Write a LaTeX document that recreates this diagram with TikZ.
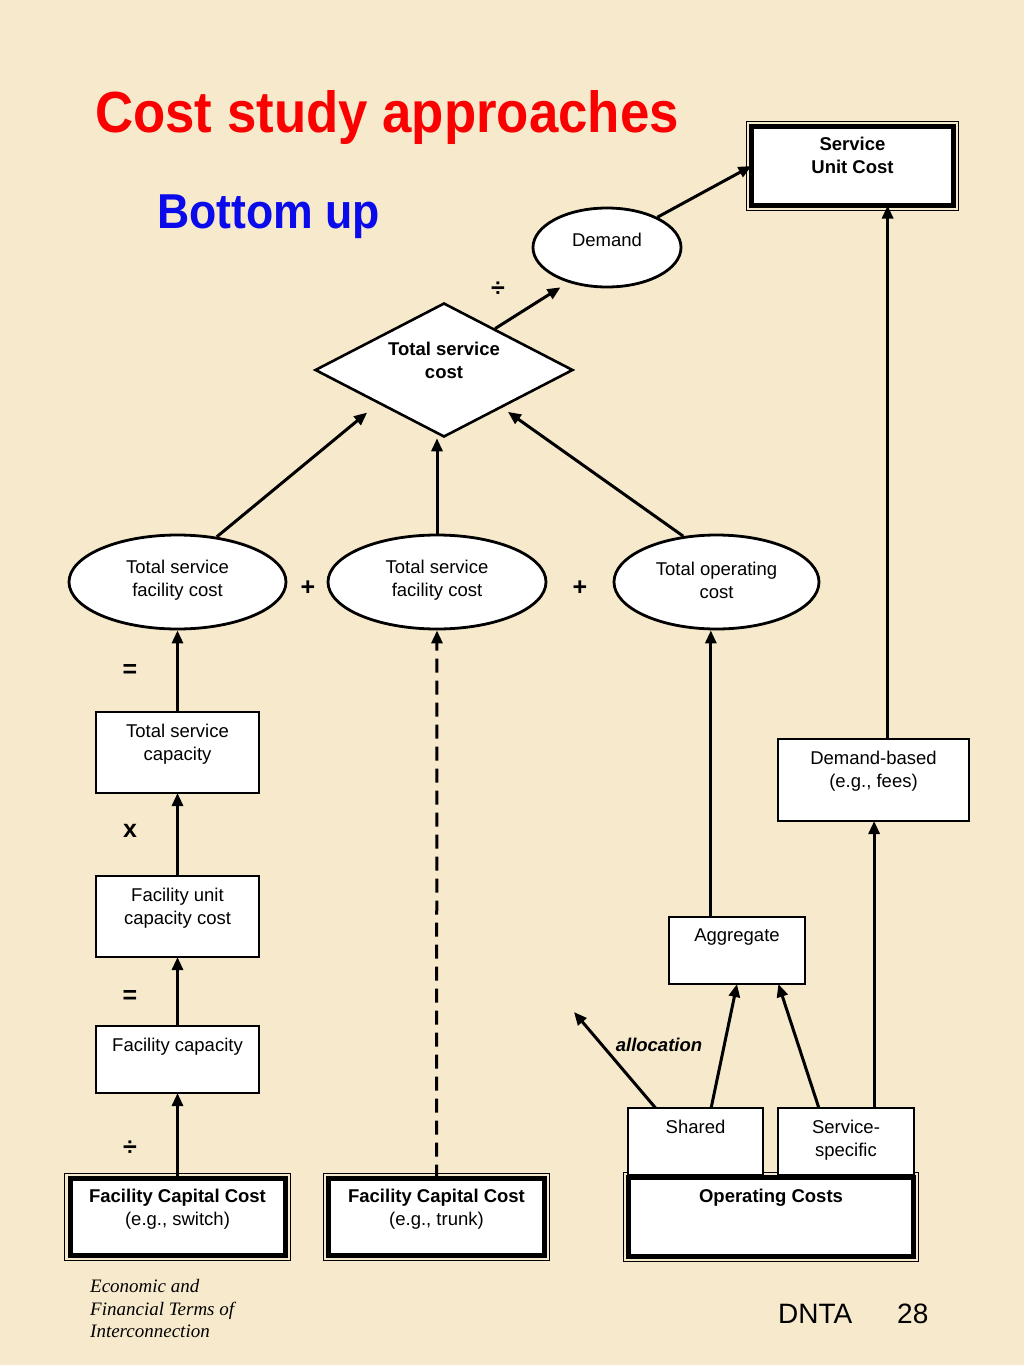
\documentclass[tikz,border=0pt]{standalone}
\usepackage{fontspec}
\setmainfont{Liberation Sans}
\newfontfamily\footfont{Liberation Serif}
\usetikzlibrary{shapes.geometric,arrows.meta}
\definecolor{parchment}{RGB}{247,234,204}
\definecolor{titlered}{RGB}{250,0,0}
\definecolor{titleblue}{RGB}{10,10,235}

\begin{document}
\begin{tikzpicture}[x=1pt,y=-1pt,
    lbl/.style={inner sep=0pt,align=center,font=\fontsize{18.5}{23}\selectfont},
    blbl/.style={lbl,font=\fontsize{18.5}{23}\selectfont\bfseries},
    box/.style={draw,fill=white,line width=1.5pt,inner sep=0pt,outer sep=0pt},
    dbox/.style={draw,fill=white,line width=5pt,inner sep=0pt,outer sep=0pt},
    oval/.style={ellipse,draw,fill=white,line width=2.8pt,inner sep=0pt},
    arr/.style={line width=3pt,-{Triangle[length=13pt,width=11pt]}},
    op/.style={font=\fontsize{25}{28}\selectfont\bfseries}]
          %page
          \useasboundingbox (0,0) rectangle (1024,1365);
          \fill[parchment] (0,0) rectangle (1024,1365);
          \node[anchor=base west,inner sep=0pt,text=titlered,font=\fontsize{58}{60}\selectfont\bfseries] (ttl) at (95,132) {\scalebox{0.91}[1]{Cost study approaches}};
          \node[anchor=base west,inner sep=0pt,text=titleblue,font=\fontsize{49}{52}\selectfont\bfseries] (sub) at (157,228) {\scalebox{0.91}[1]{Bottom up}};

          %upper part
          \node[dbox,minimum width=202pt,minimum height=79pt,label={[blbl,anchor=north,yshift=-10pt]above:Service\\Unit Cost}] (suc) at (852.5,166) {};
          \node[oval,minimum width=148pt,minimum height=79pt,label={[lbl,yshift=8pt]center:Demand}] (dem) at (607,247.5) {};
          \node[diamond,draw,fill=white,line width=2.6pt,inner sep=0pt,minimum width=258pt,minimum height=134pt,label={[blbl,yshift=10pt]center:Total service\\cost}] (tsc) at (444,370) {};
          \node[oval,minimum width=217pt,minimum height=94pt,label={[lbl,yshift=1.5pt]center:Total service\\facility cost}] (fac1) at (177.5,582) {};
          \node[oval,minimum width=218pt,minimum height=94pt,label={[lbl,yshift=1.5pt]center:Total service\\facility cost}] (fac2) at (437,582) {};
          \node[oval,minimum width=205pt,minimum height=94pt,label={[lbl,yshift=1.5pt]center:Total operating\\cost}] (opr) at (716.5,582) {};

          %left column
          \node[box,minimum width=163pt,minimum height=81pt,label={[lbl,anchor=north,yshift=-12pt]above:Total service\\capacity}] (cap) at (177.5,752.5) {};
          \node[box,minimum width=163pt,minimum height=81pt,label={[lbl,anchor=north,yshift=-12pt]above:Facility unit\\capacity cost}] (ucc) at (177.5,916.5) {};
          \node[box,minimum width=163pt,minimum height=67pt,label={[lbl,anchor=north,yshift=-12pt]above:Facility capacity}] (fcap) at (177.5,1059.5) {};
          \node[dbox,minimum width=215pt,minimum height=77pt,label={[lbl,anchor=north,yshift=-10pt]above:\textbf{Facility Capital Cost}\\(e.g., switch)}] (fcs) at (177.5,1217) {};
          \node[dbox,minimum width=216pt,minimum height=77pt,label={[lbl,anchor=north,yshift=-10pt]above:\textbf{Facility Capital Cost}\\(e.g., trunk)}] (fct) at (436.5,1217) {};
          \node[dbox,minimum width=285pt,minimum height=79pt,label={[blbl,anchor=north,yshift=-11pt]above:Operating Costs}] (opc) at (771,1217) {};
          \foreach \n in {suc,fcs,fct,opc}
            \draw[line width=1.2pt] ([shift={(-5.2,5.2)}]\n.south west) rectangle ([shift={(5.2,-5.2)}]\n.north east);

          %right column
          \node[box,minimum width=135pt,minimum height=67pt,label={[lbl,anchor=north,yshift=-12pt]above:Shared}] (shr) at (695.5,1141.5) {};
          \node[box,minimum width=136pt,minimum height=67pt,label={[lbl,anchor=north,yshift=-12pt]above:Service-\\specific}] (spc) at (846,1141.5) {};
          \node[box,minimum width=136pt,minimum height=67pt,label={[lbl,anchor=north,yshift=-12pt]above:Aggregate}] (agg) at (737,950.5) {};
          \node[box,minimum width=191pt,minimum height=82pt,label={[lbl,anchor=north,yshift=-12pt]above:Demand-based\\(e.g., fees)}] (dbs) at (873.5,780) {};
          \coordinate (alloc) at (574,1012);

          %operators
          \node[op] (eq1) at (130,671) {=};
          \node[op] (times) at (130,831) {x};
          \node[op] (eq2) at (130,997) {=};
          \node[op] (div1) at (130,1148) {÷};
          \node[op] (plus1) at (308,588) {+};
          \node[op] (plus2) at (580,588) {+};
          \node[op] (div2) at (498,289) {÷};
          \node[font=\fontsize{18.5}{23}\selectfont\bfseries\itshape] (allo) at (659,1045) {allocation};

          %arrows
          \draw[arr] (fcs.north) -- (fcap.south);
          \draw[arr] (fcap.north) -- (ucc.south);
          \draw[arr] (ucc.north) -- (cap.south);
          \draw[arr] (cap.north) -- (fac1.south);
          \draw[arr,dash pattern=on 14pt off 8pt] (fct.north) -- (fac2.south);
          \draw[arr,shorten >=14pt] (fac1.49) -- (tsc.207.6);
          \draw[arr] (fac2.north) -- (fac2.north |- tsc.south);
          \draw[arr,shorten >=7pt] (opr.126.3) -- (tsc.-33);
          \draw[arr,shorten >=9pt] (tsc.39.5) -- (dem.222);
          \draw[arr] (dem.31) -- (suc.west);
          \draw[arr] (dbs.71.8) -- (dbs.71.8 |- suc.south);
          \draw[arr] (agg.128.9) -- (agg.128.9 |- opr.south);
          \draw[arr] (shr.65.2) -- (agg.south);
          \draw[arr] (spc.129.9) -- (agg.-39.9);
          \draw[arr] (spc.50.1) -- (spc.50.1 |- dbs.south);
          \draw[arr] (shr.140.4) -- (alloc);

          %footer
          \node[anchor=north west,align=left,inner sep=0pt,font=\footfont\itshape\fontsize{19}{22.5}\selectfont] (foot) at (90,1279.5) {Economic and\\Financial Terms of\\Interconnection};
          \node[anchor=base west,inner sep=0pt,font=\fontsize{28}{30}\selectfont] (dnta) at (778,1323) {DNTA};
          \node[anchor=base west,inner sep=0pt,font=\fontsize{28}{30}\selectfont] (pgno) at (897,1323) {28};
          \end{tikzpicture}
\end{document}
